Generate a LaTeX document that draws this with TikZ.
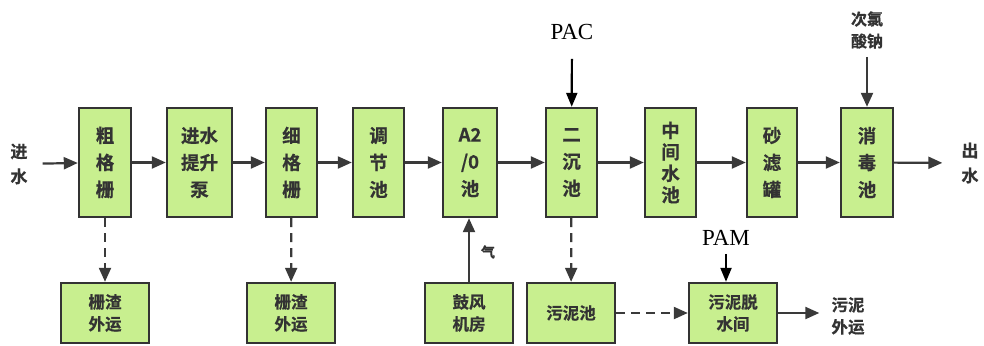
\documentclass[tikz,border=0pt]{standalone}
\usepackage{fontspec}
\setmainfont{Liberation Serif}
\newfontfamily\cjk{Noto Sans CJK SC Bold}[FakeBold=0.6]
\usetikzlibrary{arrows.meta}
\definecolor{boxfill}{HTML}{C8EF8F}
\definecolor{boxline}{HTML}{333333}
\definecolor{txt}{HTML}{333333}
\definecolor{arrc}{HTML}{3A3A3A}
\tikzset{
  box/.style={draw=boxline, fill=boxfill, line width=2.4pt, inner sep=0pt,
    text=txt, align=center, font=\cjk\fontsize{18.5}{27}\selectfont},
  tall/.style={box, minimum height=109pt},
  low/.style={box, minimum width=88pt, minimum height=60pt,
    font=\cjk\fontsize{16.5}{22}\selectfont},
  lbl/.style={text=txt, align=center, inner sep=0pt, font=\cjk\fontsize{17}{25}\selectfont},
  arr/.style={draw=arrc, line width=2.2pt, -{Triangle[length=14pt,width=12pt]}},
  darr/.style={arr, dash pattern=on 9pt off 6pt},
  karr/.style={draw=black, line width=2.2pt, -{Triangle[length=14pt,width=11pt]}},
  chem/.style={font=\fontsize{23}{26}\selectfont, inner sep=0pt}
}
\begin{document}
\begin{tikzpicture}[x=1pt,y=-1pt]
\useasboundingbox (0,0) rectangle (984,345);
% top row
\node[tall, minimum width=52pt] (b1) at (105,162.5) {粗\\格\\栅};
\node[tall, minimum width=65pt] (b2) at (199.5,162.5) {进水\\提升\\泵};
\node[tall, minimum width=51pt] (b3) at (291.5,162.5) {细\\格\\栅};
\node[tall, minimum width=51pt] (b4) at (378.5,162.5) {调\\节\\池};
\node[tall, minimum width=54pt] (b5) at (470,162.5) {A2\\/0\\池};
\node[tall, minimum width=51pt] (b6) at (571.5,162.5) {二\\沉\\池};
\node[tall, minimum width=51pt, font=\cjk\fontsize{18.5}{21.5}\selectfont] (b7) at (670.5,162.5) {中\\间\\水\\池};
\node[tall, minimum width=50pt] (b8) at (772,162.5) {砂\\滤\\罐};
\node[tall, minimum width=52pt] (b9) at (867,162.5) {消\\毒\\池};
% bottom row
\node[low] (s1) at (105,313) {栅渣\\外运};
\node[low] (s2) at (291,313) {栅渣\\外运};
\node[low] (fan) at (469,313) {鼓风\\机房};
\node[low] (mud) at (571,313) {污泥池};
\node[low] (dew) at (733,313) {污泥脱\\水间};
% labels
\node[lbl, inner xsep=15pt] (in) at (19,164) {进\\水};
\node[lbl, inner xsep=19pt] (out) at (970,163) {出\\水};
\node[chem, inner ysep=19pt] (pac) at (572,32) {PAC};
\node[chem, inner ysep=8pt] (pam) at (726,238) {PAM};
\node[lbl, font=\cjk\fontsize{16}{22}\selectfont, inner ysep=8pt] (naclo) at (867,30) {次氯\\酸钠};
\node[lbl, inner xsep=12pt, font=\cjk\fontsize{16.5}{22}\selectfont] (mudout) at (848,316) {污泥\\外运};
\node[lbl, font=\cjk\fontsize{14}{16}\selectfont] (air) at (488,252) {气};
% main flow
\draw[arr] (in) -- (b1);
\draw[arr] (b1) -- (b2);
\draw[arr] (b2) -- (b3);
\draw[arr] (b3) -- (b4);
\draw[arr] (b4) -- (b5);
\draw[arr] (b5) -- (b6);
\draw[arr] (b6) -- (b7);
\draw[arr] (b7) -- (b8);
\draw[arr] (b8) -- (b9);
\draw[arr] (b9) -- (out);
% dosing
\draw[karr] (pac) -- (b6);
\draw[arr] (naclo) -- (b9);
\draw[karr] (pam.south) -- (pam.south |- dew.north);
% down
\draw[darr] (b1) -- (s1);
\draw[darr] (b3) -- (s2);
\draw[darr] (b6) -- (mud);
\draw[arr] (fan.north) -- (fan.north |- b5.south);
\draw[darr] (mud) -- (dew);
\draw[arr] (dew.east) -- (dew.east -| mudout.west);
\end{tikzpicture}
\end{document}
